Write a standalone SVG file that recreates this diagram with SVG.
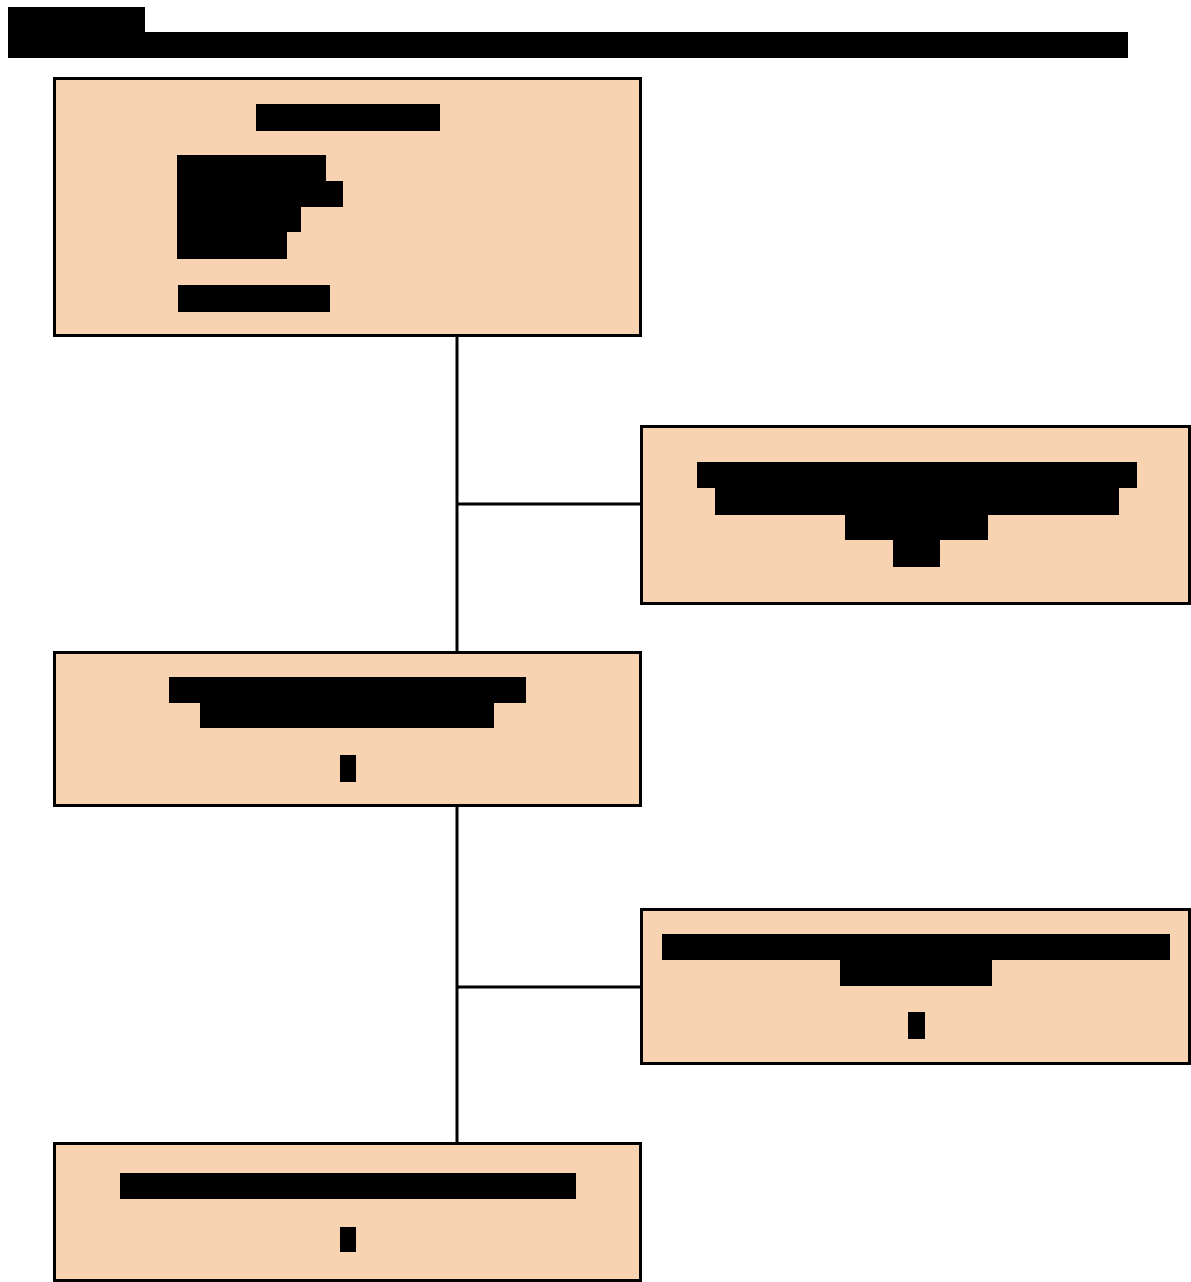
<svg xmlns="http://www.w3.org/2000/svg" width="1191" height="1282" viewBox="0 0 1191 1282">
  <style>
    .node { fill: #F8D3B2; stroke: #000; stroke-width: 3; }
    .redact { fill: #000; }
    .conn { stroke: #000; stroke-width: 3; fill: none; }
  </style>
  <rect x="0" y="0" width="1191" height="1282" fill="#fff"/>
  <g id="title">
    <path class="redact" d="M8 7 H145 V32 H1128 V58 H8 Z"/>
  </g>
  <g id="connectors">
    <line class="conn" x1="457" y1="336" x2="457" y2="652"/>
    <line class="conn" x1="457" y1="504" x2="641" y2="504"/>
    <line class="conn" x1="457" y1="805" x2="457" y2="1143"/>
    <line class="conn" x1="457" y1="987" x2="641" y2="987"/>
  </g>
  <g id="node1">
    <rect class="node" x="54.5" y="78.5" width="586" height="257"/>
    <rect class="redact" x="256" y="104" width="184" height="27"/>
    <path class="redact" d="M177 155 H326 V181 H343 V207 H301 V232 H287 V259 H177 Z"/>
    <rect class="redact" x="178" y="285" width="152" height="27"/>
  </g>
  <g id="node2">
    <rect class="node" x="641.5" y="426.5" width="548" height="177"/>
    <path class="redact" d="M697 462 H1137 V488 H1119 V515 H988 V540 H940 V567 H893 V540 H845 V515 H715 V488 H697 Z"/>
  </g>
  <g id="node3">
    <rect class="node" x="54.5" y="652.5" width="586" height="153"/>
    <path class="redact" d="M169 677 H526 V703 H494 V728 H200 V703 H169 Z"/>
    <rect class="redact" x="340" y="755" width="16" height="27"/>
  </g>
  <g id="node4">
    <rect class="node" x="641.5" y="909.5" width="548" height="154"/>
    <path class="redact" d="M662 934 H1170 V960 H992 V986 H840 V960 H662 Z"/>
    <rect class="redact" x="908" y="1012" width="17" height="27"/>
  </g>
  <g id="node5">
    <rect class="node" x="54.5" y="1143.5" width="586" height="137"/>
    <rect class="redact" x="120" y="1173" width="456" height="26"/>
    <rect class="redact" x="340" y="1227" width="16" height="25"/>
  </g>
</svg>
